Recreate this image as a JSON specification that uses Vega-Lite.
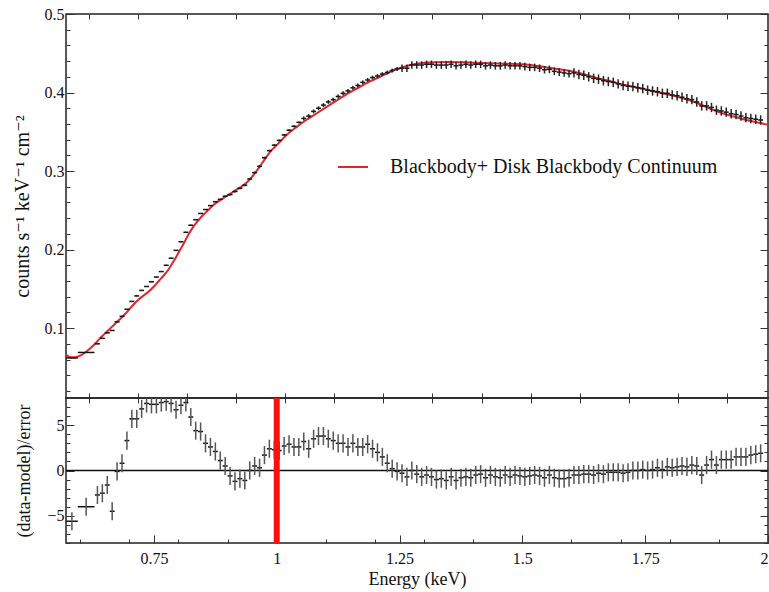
{
"$schema": "https://vega.github.io/schema/vega-lite/v6.json",
"background": "white",
"padding": {"top": 5, "left": 11, "right": 0, "bottom": 0},
"spacing": 0,
"bounds": "flush",
"config": {
  "font": "Liberation Serif, Times New Roman, DejaVu Serif, serif",
  "view": {"stroke": "#222", "strokeWidth": 1.5},
  "axis": {"grid": false, "domain": false, "labelFont": "Liberation Serif, Times New Roman, DejaVu Serif, serif", "labelFontSize": 16, "labelColor": "#111", "titleFont": "Liberation Serif, Times New Roman, DejaVu Serif, serif", "titleFontSize": 18, "titleFontWeight": "normal", "titleColor": "#111", "tickColor": "#333", "tickWidth": 1},
  "legend": {"labelFont": "Liberation Serif, Times New Roman, DejaVu Serif, serif"}
},
"datasets": {
  "spec": [
    {"E":0.583,"dE":0.012,"rate":0.062,"err":0.0005,"res":-5.6,"re":1},
    {"E":0.612,"dE":0.017,"rate":0.069,"err":0.0005,"res":-4.0,"re":1},
    {"E":0.635,"dE":0.005,"rate":0.080,"err":0.0006,"res":-2.7,"re":1},
    {"E":0.645,"dE":0.005,"rate":0.087,"err":0.0006,"res":-2.5,"re":1},
    {"E":0.655,"dE":0.005,"rate":0.094,"err":0.0006,"res":-1.6,"re":1},
    {"E":0.665,"dE":0.005,"rate":0.097,"err":0.0006,"res":-4.5,"re":1},
    {"E":0.675,"dE":0.005,"rate":0.108,"err":0.0006,"res":-0.1,"re":1},
    {"E":0.685,"dE":0.005,"rate":0.115,"err":0.0006,"res":0.8,"re":1},
    {"E":0.695,"dE":0.005,"rate":0.124,"err":0.0006,"res":3.3,"re":1},
    {"E":0.705,"dE":0.005,"rate":0.134,"err":0.0006,"res":5.7,"re":1},
    {"E":0.715,"dE":0.005,"rate":0.141,"err":0.0006,"res":5.7,"re":1},
    {"E":0.725,"dE":0.005,"rate":0.148,"err":0.0006,"res":6.8,"re":1},
    {"E":0.735,"dE":0.005,"rate":0.153,"err":0.0006,"res":7.4,"re":1},
    {"E":0.745,"dE":0.005,"rate":0.159,"err":0.0006,"res":7.3,"re":1},
    {"E":0.755,"dE":0.005,"rate":0.165,"err":0.0006,"res":7.3,"re":1},
    {"E":0.765,"dE":0.005,"rate":0.172,"err":0.0006,"res":7.5,"re":1},
    {"E":0.775,"dE":0.005,"rate":0.180,"err":0.0006,"res":7.6,"re":1},
    {"E":0.785,"dE":0.005,"rate":0.189,"err":0.0006,"res":7.4,"re":1},
    {"E":0.795,"dE":0.005,"rate":0.199,"err":0.0006,"res":6.7,"re":1},
    {"E":0.805,"dE":0.005,"rate":0.210,"err":0.0006,"res":7.2,"re":1},
    {"E":0.815,"dE":0.005,"rate":0.222,"err":0.0006,"res":7.5,"re":1},
    {"E":0.825,"dE":0.005,"rate":0.231,"err":0.0006,"res":5.9,"re":1},
    {"E":0.835,"dE":0.005,"rate":0.238,"err":0.0006,"res":4.4,"re":1},
    {"E":0.845,"dE":0.005,"rate":0.246,"err":0.0006,"res":4.3,"re":1},
    {"E":0.855,"dE":0.005,"rate":0.251,"err":0.0006,"res":3.0,"re":1},
    {"E":0.865,"dE":0.005,"rate":0.256,"err":0.0006,"res":2.6,"re":1},
    {"E":0.875,"dE":0.005,"rate":0.261,"err":0.0006,"res":2.1,"re":1},
    {"E":0.885,"dE":0.005,"rate":0.264,"err":0.0006,"res":1.1,"re":1},
    {"E":0.895,"dE":0.005,"rate":0.268,"err":0.0006,"res":0.5,"re":1},
    {"E":0.905,"dE":0.005,"rate":0.270,"err":0.0012,"res":-0.6,"re":1},
    {"E":0.915,"dE":0.005,"rate":0.274,"err":0.0012,"res":-1.2,"re":1},
    {"E":0.925,"dE":0.005,"rate":0.278,"err":0.0012,"res":-0.9,"re":1},
    {"E":0.935,"dE":0.005,"rate":0.282,"err":0.0012,"res":-1.1,"re":1},
    {"E":0.945,"dE":0.005,"rate":0.290,"err":0.0012,"res":0.0,"re":1},
    {"E":0.955,"dE":0.005,"rate":0.298,"err":0.0012,"res":0.5,"re":1},
    {"E":0.965,"dE":0.005,"rate":0.306,"err":0.0012,"res":0.3,"re":1},
    {"E":0.975,"dE":0.005,"rate":0.317,"err":0.0012,"res":1.7,"re":1},
    {"E":0.985,"dE":0.005,"rate":0.326,"err":0.0012,"res":2.4,"re":1},
    {"E":0.995,"dE":0.005,"rate":0.333,"err":0.0012,"res":2.3,"re":1},
    {"E":1.005,"dE":0.005,"rate":0.339,"err":0.0012,"res":2.2,"re":1},
    {"E":1.015,"dE":0.005,"rate":0.346,"err":0.0012,"res":2.7,"re":1},
    {"E":1.025,"dE":0.005,"rate":0.352,"err":0.0012,"res":2.9,"re":1},
    {"E":1.035,"dE":0.005,"rate":0.357,"err":0.0012,"res":2.6,"re":1},
    {"E":1.045,"dE":0.005,"rate":0.362,"err":0.0012,"res":2.6,"re":1},
    {"E":1.055,"dE":0.005,"rate":0.367,"err":0.0025,"res":3.2,"re":1},
    {"E":1.065,"dE":0.005,"rate":0.370,"err":0.0025,"res":2.4,"re":1},
    {"E":1.075,"dE":0.005,"rate":0.376,"err":0.0025,"res":3.5,"re":1},
    {"E":1.085,"dE":0.005,"rate":0.380,"err":0.0025,"res":3.8,"re":1},
    {"E":1.095,"dE":0.005,"rate":0.384,"err":0.0025,"res":3.8,"re":1},
    {"E":1.105,"dE":0.005,"rate":0.388,"err":0.0025,"res":3.5,"re":1},
    {"E":1.115,"dE":0.005,"rate":0.391,"err":0.0025,"res":3.3,"re":1},
    {"E":1.125,"dE":0.005,"rate":0.395,"err":0.0025,"res":3.0,"re":1},
    {"E":1.135,"dE":0.005,"rate":0.399,"err":0.0025,"res":3.0,"re":1},
    {"E":1.145,"dE":0.005,"rate":0.402,"err":0.0025,"res":2.6,"re":1},
    {"E":1.155,"dE":0.005,"rate":0.406,"err":0.0025,"res":3.0,"re":1},
    {"E":1.165,"dE":0.005,"rate":0.409,"err":0.0025,"res":2.6,"re":1},
    {"E":1.175,"dE":0.005,"rate":0.413,"err":0.0025,"res":2.6,"re":1},
    {"E":1.185,"dE":0.005,"rate":0.416,"err":0.0025,"res":2.9,"re":1},
    {"E":1.195,"dE":0.005,"rate":0.419,"err":0.0025,"res":2.4,"re":1},
    {"E":1.205,"dE":0.005,"rate":0.421,"err":0.0025,"res":2.0,"re":1},
    {"E":1.215,"dE":0.005,"rate":0.4235,"err":0.0025,"res":1.5,"re":1},
    {"E":1.225,"dE":0.005,"rate":0.4255,"err":0.0025,"res":0.8,"re":1},
    {"E":1.235,"dE":0.005,"rate":0.428,"err":0.0025,"res":0.2,"re":1},
    {"E":1.245,"dE":0.005,"rate":0.430,"err":0.0025,"res":-0.1,"re":1},
    {"E":1.255,"dE":0.005,"rate":0.431,"err":0.0048,"res":-0.3,"re":1},
    {"E":1.265,"dE":0.005,"rate":0.431,"err":0.0048,"res":-0.7,"re":1},
    {"E":1.275,"dE":0.005,"rate":0.435,"err":0.0048,"res":0.0,"re":1},
    {"E":1.285,"dE":0.005,"rate":0.435,"err":0.0048,"res":-0.4,"re":1},
    {"E":1.295,"dE":0.005,"rate":0.435,"err":0.0048,"res":-0.7,"re":1},
    {"E":1.305,"dE":0.005,"rate":0.436,"err":0.0048,"res":-0.5,"re":1},
    {"E":1.315,"dE":0.005,"rate":0.436,"err":0.0048,"res":-0.7,"re":1},
    {"E":1.325,"dE":0.005,"rate":0.435,"err":0.0048,"res":-1.0,"re":1},
    {"E":1.335,"dE":0.005,"rate":0.435,"err":0.0048,"res":-0.9,"re":1},
    {"E":1.345,"dE":0.005,"rate":0.435,"err":0.0048,"res":-1.1,"re":1},
    {"E":1.355,"dE":0.005,"rate":0.436,"err":0.0048,"res":-0.7,"re":1},
    {"E":1.365,"dE":0.005,"rate":0.434,"err":0.0048,"res":-1.1,"re":1},
    {"E":1.375,"dE":0.005,"rate":0.435,"err":0.0048,"res":-0.8,"re":1},
    {"E":1.385,"dE":0.005,"rate":0.436,"err":0.0048,"res":-0.7,"re":1},
    {"E":1.395,"dE":0.005,"rate":0.435,"err":0.0048,"res":-0.8,"re":1},
    {"E":1.405,"dE":0.005,"rate":0.436,"err":0.0048,"res":-0.5,"re":1},
    {"E":1.415,"dE":0.005,"rate":0.436,"err":0.0048,"res":-0.4,"re":1},
    {"E":1.425,"dE":0.005,"rate":0.434,"err":0.0048,"res":-0.8,"re":1},
    {"E":1.435,"dE":0.005,"rate":0.435,"err":0.0048,"res":-0.5,"re":1},
    {"E":1.445,"dE":0.005,"rate":0.434,"err":0.0048,"res":-0.7,"re":1},
    {"E":1.455,"dE":0.005,"rate":0.434,"err":0.0048,"res":-0.8,"re":1},
    {"E":1.465,"dE":0.005,"rate":0.435,"err":0.0048,"res":-0.5,"re":1},
    {"E":1.475,"dE":0.005,"rate":0.434,"err":0.0048,"res":-0.7,"re":1},
    {"E":1.485,"dE":0.005,"rate":0.434,"err":0.0048,"res":-0.5,"re":1},
    {"E":1.495,"dE":0.005,"rate":0.434,"err":0.0048,"res":-0.6,"re":1},
    {"E":1.505,"dE":0.005,"rate":0.433,"err":0.0048,"res":-0.7,"re":1},
    {"E":1.515,"dE":0.005,"rate":0.432,"err":0.0048,"res":-0.6,"re":1},
    {"E":1.525,"dE":0.005,"rate":0.432,"err":0.0048,"res":-0.5,"re":1},
    {"E":1.535,"dE":0.005,"rate":0.431,"err":0.0048,"res":-0.6,"re":1},
    {"E":1.545,"dE":0.005,"rate":0.429,"err":0.0048,"res":-0.8,"re":1},
    {"E":1.555,"dE":0.005,"rate":0.4295,"err":0.0048,"res":-0.5,"re":1},
    {"E":1.565,"dE":0.005,"rate":0.427,"err":0.0048,"res":-0.8,"re":1},
    {"E":1.575,"dE":0.005,"rate":0.426,"err":0.0048,"res":-0.9,"re":1},
    {"E":1.585,"dE":0.005,"rate":0.425,"err":0.0048,"res":-0.9,"re":1},
    {"E":1.595,"dE":0.005,"rate":0.424,"err":0.0048,"res":-0.8,"re":1},
    {"E":1.605,"dE":0.005,"rate":0.425,"err":0.006,"res":-0.5,"re":1},
    {"E":1.615,"dE":0.005,"rate":0.423,"err":0.006,"res":-0.5,"re":1},
    {"E":1.625,"dE":0.005,"rate":0.422,"err":0.006,"res":-0.4,"re":1},
    {"E":1.635,"dE":0.005,"rate":0.420,"err":0.006,"res":-0.4,"re":1},
    {"E":1.645,"dE":0.005,"rate":0.418,"err":0.006,"res":-0.5,"re":1},
    {"E":1.655,"dE":0.005,"rate":0.417,"err":0.006,"res":-0.3,"re":1},
    {"E":1.665,"dE":0.005,"rate":0.415,"err":0.006,"res":-0.4,"re":1},
    {"E":1.675,"dE":0.005,"rate":0.414,"err":0.006,"res":-0.2,"re":1},
    {"E":1.685,"dE":0.005,"rate":0.413,"err":0.006,"res":-0.2,"re":1},
    {"E":1.695,"dE":0.005,"rate":0.411,"err":0.006,"res":-0.2,"re":1},
    {"E":1.705,"dE":0.005,"rate":0.409,"err":0.006,"res":-0.3,"re":1},
    {"E":1.715,"dE":0.005,"rate":0.408,"err":0.006,"res":-0.2,"re":1},
    {"E":1.725,"dE":0.005,"rate":0.4075,"err":0.006,"res":0.0,"re":1},
    {"E":1.735,"dE":0.005,"rate":0.406,"err":0.006,"res":0.0,"re":1},
    {"E":1.745,"dE":0.005,"rate":0.405,"err":0.006,"res":0.1,"re":1},
    {"E":1.755,"dE":0.005,"rate":0.403,"err":0.006,"res":0.0,"re":1},
    {"E":1.765,"dE":0.005,"rate":0.402,"err":0.006,"res":0.1,"re":1},
    {"E":1.775,"dE":0.005,"rate":0.401,"err":0.006,"res":0.3,"re":1},
    {"E":1.785,"dE":0.005,"rate":0.399,"err":0.006,"res":0.1,"re":1},
    {"E":1.795,"dE":0.005,"rate":0.399,"err":0.006,"res":0.4,"re":1},
    {"E":1.805,"dE":0.005,"rate":0.397,"err":0.006,"res":0.3,"re":1},
    {"E":1.815,"dE":0.005,"rate":0.396,"err":0.006,"res":0.4,"re":1},
    {"E":1.825,"dE":0.005,"rate":0.394,"err":0.006,"res":0.5,"re":1},
    {"E":1.835,"dE":0.005,"rate":0.392,"err":0.006,"res":0.4,"re":1},
    {"E":1.845,"dE":0.005,"rate":0.391,"err":0.006,"res":0.6,"re":1},
    {"E":1.855,"dE":0.005,"rate":0.388,"err":0.006,"res":0.5,"re":1},
    {"E":1.865,"dE":0.005,"rate":0.383,"err":0.006,"res":-0.5,"re":1},
    {"E":1.875,"dE":0.005,"rate":0.383,"err":0.006,"res":0.6,"re":1},
    {"E":1.885,"dE":0.005,"rate":0.381,"err":0.006,"res":1.2,"re":1},
    {"E":1.895,"dE":0.005,"rate":0.3775,"err":0.006,"res":0.6,"re":1},
    {"E":1.905,"dE":0.005,"rate":0.3765,"err":0.006,"res":1.2,"re":1},
    {"E":1.915,"dE":0.005,"rate":0.375,"err":0.006,"res":1.2,"re":1},
    {"E":1.925,"dE":0.005,"rate":0.373,"err":0.006,"res":1.2,"re":1},
    {"E":1.935,"dE":0.005,"rate":0.372,"err":0.006,"res":1.5,"re":1},
    {"E":1.945,"dE":0.005,"rate":0.370,"err":0.006,"res":1.5,"re":1},
    {"E":1.955,"dE":0.005,"rate":0.368,"err":0.006,"res":1.5,"re":1},
    {"E":1.965,"dE":0.005,"rate":0.367,"err":0.006,"res":1.7,"re":1},
    {"E":1.975,"dE":0.005,"rate":0.366,"err":0.006,"res":1.8,"re":1},
    {"E":1.985,"dE":0.005,"rate":0.365,"err":0.006,"res":1.9,"re":1}
  ],
  "model": [
    {"E":0.571,"m":0.066},{"E":0.58,"m":0.063},{"E":0.59,"m":0.063},{"E":0.60,"m":0.065},{"E":0.61,"m":0.069},
    {"E":0.62,"m":0.074},{"E":0.63,"m":0.080},{"E":0.64,"m":0.087},{"E":0.65,"m":0.093},{"E":0.66,"m":0.099},
    {"E":0.67,"m":0.105},{"E":0.68,"m":0.111},{"E":0.69,"m":0.117},{"E":0.70,"m":0.124},{"E":0.71,"m":0.131},
    {"E":0.72,"m":0.137},{"E":0.73,"m":0.142},{"E":0.74,"m":0.147},{"E":0.75,"m":0.153},{"E":0.76,"m":0.160},
    {"E":0.77,"m":0.167},{"E":0.78,"m":0.175},{"E":0.79,"m":0.185},{"E":0.80,"m":0.196},{"E":0.81,"m":0.207},
    {"E":0.82,"m":0.219},{"E":0.83,"m":0.229},{"E":0.84,"m":0.237},{"E":0.85,"m":0.244},{"E":0.86,"m":0.250},
    {"E":0.87,"m":0.256},{"E":0.88,"m":0.261},{"E":0.89,"m":0.265},{"E":0.90,"m":0.269},{"E":0.91,"m":0.273},
    {"E":0.92,"m":0.277},{"E":0.93,"m":0.281},{"E":0.94,"m":0.286},{"E":0.95,"m":0.293},{"E":0.96,"m":0.301},
    {"E":0.97,"m":0.310},{"E":0.98,"m":0.319},{"E":0.99,"m":0.327},{"E":1.00,"m":0.333},{"E":1.02,"m":0.346},
    {"E":1.04,"m":0.356},{"E":1.06,"m":0.365},{"E":1.08,"m":0.373},{"E":1.10,"m":0.381},{"E":1.12,"m":0.389},
    {"E":1.14,"m":0.397},{"E":1.16,"m":0.404},{"E":1.18,"m":0.411},{"E":1.20,"m":0.417},{"E":1.22,"m":0.423},
    {"E":1.24,"m":0.429},{"E":1.26,"m":0.433},{"E":1.28,"m":0.436},{"E":1.30,"m":0.438},{"E":1.35,"m":0.439},
    {"E":1.40,"m":0.438},{"E":1.45,"m":0.437},{"E":1.50,"m":0.436},{"E":1.55,"m":0.432},{"E":1.60,"m":0.427},
    {"E":1.65,"m":0.419},{"E":1.70,"m":0.411},{"E":1.75,"m":0.404},{"E":1.80,"m":0.397},{"E":1.85,"m":0.388},
    {"E":1.90,"m":0.375},{"E":1.95,"m":0.366},{"E":2.00,"m":0.359}
  ]
},
"vconcat": [
  {
    "width": 702,
    "height": 384,
    "layer": [
      {
        "data": {"name": "model"},
        "mark": {"type": "line", "strokeWidth": 2, "interpolate": "monotone"},
        "encoding": {
          "x": {"field": "E", "type": "quantitative", "scale": {"domain": [0.571, 2.0], "nice": false, "zero": false},
            "axis": {"orient": "bottom", "values": [0.617,0.717,0.817,0.917,1.017,1.117,1.217,1.317,1.417,1.517,1.617,1.717,1.817,1.917], "labels": false, "title": null, "tickSize": -5}},
          "y": {"field": "m", "type": "quantitative", "scale": {"domain": [0.011, 0.5], "nice": false, "zero": false},
            "axis": {"orient": "left", "values": [0.02,0.04,0.06,0.08,0.1,0.12,0.14,0.16,0.18,0.2,0.22,0.24,0.26,0.28,0.3,0.32,0.34,0.36,0.38,0.4,0.42,0.44,0.46,0.48,0.5],
              "labelExpr": "abs(datum.value*10-round(datum.value*10))<0.001 ? format(datum.value,'.1f') : ''",
              "tickSize": {"condition": {"test": "abs(datum.value*10-round(datum.value*10))<0.001", "value": -8}, "value": -4},
              "labelPadding": 10, "title": "counts s⁻¹ keV⁻¹ cm⁻²", "titleFontSize": 20, "titlePadding": 12}},
          "color": {"datum": "Blackbody+ Disk Blackbody Continuum", "type": "nominal", "scale": {"range": ["#e3242b"]},
            "legend": {"orient": "none", "legendX": 271, "legendY": 137, "title": null, "symbolType": "stroke", "symbolSize": 900, "symbolStrokeWidth": 2, "labelFontSize": 20, "labelColor": "#111", "labelOffset": 21, "labelLimit": 0, "padding": 0}}
        }
      },
      {
        "data": {"name": "spec"},
        "mark": {"type": "errorbar", "color": "#111", "thickness": 1.5},
        "encoding": {
          "x": {"field": "E", "type": "quantitative", "scale": {"domain": [0.571, 2.0], "nice": false, "zero": false},
            "axis": {"orient": "top", "values": [0.617,0.717,0.817,0.917,1.017,1.117,1.217,1.317,1.417,1.517,1.617,1.717,1.817,1.917], "labels": false, "title": null, "tickSize": -5}},
          "xError": {"field": "dE"},
          "y": {"field": "rate", "type": "quantitative", "scale": {"domain": [0.011, 0.5], "nice": false, "zero": false},
            "axis": {"orient": "right", "values": [0.02,0.04,0.06,0.08,0.1,0.12,0.14,0.16,0.18,0.2,0.22,0.24,0.26,0.28,0.3,0.32,0.34,0.36,0.38,0.4,0.42,0.44,0.46,0.48,0.5],
              "labels": false, "title": null,
              "tickSize": {"condition": {"test": "abs(datum.value*10-round(datum.value*10))<0.001", "value": -8}, "value": -4}}}
        }
      },
      {
        "data": {"name": "spec"},
        "mark": {"type": "errorbar", "color": "#222", "thickness": 1.5},
        "encoding": {
          "x": {"field": "E", "type": "quantitative", "scale": {"domain": [0.571, 2.0], "nice": false, "zero": false}, "axis": null},
          "y": {"field": "rate", "type": "quantitative", "scale": {"domain": [0.011, 0.5], "nice": false, "zero": false}, "axis": null},
          "yError": {"field": "err"}
        }
      }
    ]
  },
  {
    "width": 702,
    "height": 145,
    "layer": [
      {
        "data": {"values": [{}]},
        "mark": {"type": "rule", "color": "#111", "strokeWidth": 1.5},
        "encoding": {"y": {"datum": 0, "type": "quantitative", "scale": {"domain": [-8, 8], "nice": false, "zero": false}, "axis": null}}
      },
      {
        "data": {"name": "spec"},
        "mark": {"type": "errorbar", "color": "#111", "thickness": 1.5, "clip": true},
        "encoding": {
          "x": {"field": "E", "type": "quantitative", "scale": {"domain": [0.571, 2.0], "nice": false, "zero": false},
            "axis": {"orient": "bottom", "values": [0.6,0.7,0.75,0.8,0.9,1,1.1,1.2,1.25,1.3,1.4,1.5,1.6,1.7,1.75,1.8,1.9,2],
              "labelExpr": "abs(datum.value*4-round(datum.value*4))<0.001 ? format(datum.value,'') : ''",
              "tickSize": {"condition": {"test": "abs(datum.value*4-round(datum.value*4))<0.001", "value": -8}, "value": -4},
              "labelPadding": 15, "title": "Energy (keV)", "titlePadding": 4}},
          "xError": {"field": "dE"},
          "y": {"field": "res", "type": "quantitative", "scale": {"domain": [-8, 8], "nice": false, "zero": false},
            "axis": {"orient": "left", "values": [-8,-7,-6,-5,-4,-3,-2,-1,0,1,2,3,4,5,6,7,8],
              "labelExpr": "datum.value % 5 == 0 ? format(datum.value,'d') : ''",
              "tickSize": {"condition": {"test": "datum.value % 5 == 0", "value": -8}, "value": -4},
              "labelPadding": 10, "title": "(data-model)/error", "titlePadding": 13}}
        }
      },
      {
        "data": {"name": "spec"},
        "mark": {"type": "errorbar", "color": "#555", "thickness": 1.5, "clip": true},
        "encoding": {
          "x": {"field": "E", "type": "quantitative", "scale": {"domain": [0.571, 2.0], "nice": false, "zero": false},
            "axis": {"orient": "top", "values": [0.617,0.717,0.817,0.917,1.017,1.117,1.217,1.317,1.417,1.517,1.617,1.717,1.817,1.917], "labels": false, "title": null, "tickSize": -5}},
          "y": {"field": "res", "type": "quantitative", "scale": {"domain": [-8, 8], "nice": false, "zero": false},
            "axis": {"orient": "right", "values": [-8,-7,-6,-5,-4,-3,-2,-1,0,1,2,3,4,5,6,7,8], "labels": false, "title": null,
              "tickSize": {"condition": {"test": "datum.value % 5 == 0", "value": -8}, "value": -4}}},
          "yError": {"field": "re"}
        }
      },
      {
        "data": {"values": [{}]},
        "mark": {"type": "rule", "color": "#ff1010", "strokeWidth": 6},
        "encoding": {"x": {"datum": 1, "type": "quantitative", "scale": {"domain": [0.571, 2.0], "nice": false, "zero": false}, "axis": null}}
      }
    ]
  }
]
}
